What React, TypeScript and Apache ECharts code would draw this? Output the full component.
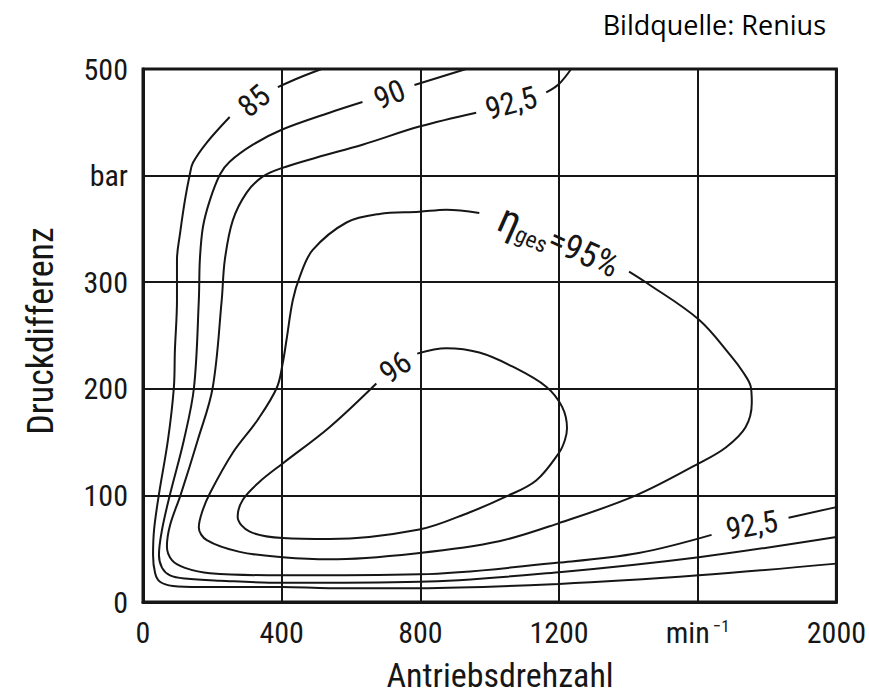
import React, { useEffect, useRef } from 'react';
import * as echarts from 'echarts';

// Axis ticks and labels
const xTickValues = [0, 400, 800, 1200, 1600, 2000];
const xTickLabels = ['0', '400', '800', '1200', '{m|min}{s|−1}', '2000'];
const yTickValues = [0, 100, 200, 300, 400, 500];
const yTickLabels = ['0', '100', '200', '300', 'bar', '500'];

// Contour: 85 %
const eta85Top = [[515, 500], [452, 492], [389, 483]];
const eta85Main = [
  [250, 455], [184, 431], [144, 412], [135, 401], [121, 377], [107, 346], [98, 321], [98, 283],
  [92, 236], [89, 201], [72, 152], [46, 101], [32, 68], [29, 44], [35, 27], [49, 19], [86, 15],
  [164, 14], [403, 14], [538, 13], [797, 13], [1200, 17], [1603, 25], [2000, 36],
];
// Contour: 90 %
const eta90Top = [[932, 500], [783, 485]];
const eta90Main = [
  [633, 469], [538, 459], [400, 443], [317, 429], [250, 413], [222, 401], [193, 377], [173, 352],
  [164, 321], [161, 283], [147, 201], [118, 152], [78, 101], [55, 68], [46, 44], [55, 32], [78, 25],
  [121, 22], [222, 20], [403, 18], [797, 19], [1200, 28], [1603, 42], [2000, 61],
];
// Contour: 92.5 %
const eta925Top = [[1235, 500], [1200, 486], [1163, 478]];
const eta925Main = [
  [961, 459], [797, 446], [633, 429], [501, 417], [400, 407], [345, 399], [299, 384], [259, 358],
  [236, 321], [227, 283], [201, 201], [158, 152], [109, 101], [78, 72], [69, 52], [84, 39], [121, 32],
  [193, 27], [403, 25], [797, 26], [1200, 37], [1430, 46], [1640, 63],
];
const eta925End = [[1862, 79], [2000, 89]];
// Contour: 95 %
const eta95 = [
  [970, 365], [875, 368], [797, 366], [682, 364], [587, 356], [489, 330], [452, 305], [432, 283],
  [414, 246], [403, 224], [386, 201], [331, 171], [259, 140], [193, 102], [170, 84], [161, 70],
  [184, 58], [279, 47], [403, 42], [538, 40], [797, 46], [1027, 57], [1200, 74], [1422, 100],
  [1603, 130], [1681, 145], [1738, 164], [1756, 187], [1753, 202], [1730, 216], [1698, 230],
  [1603, 265], [1450, 300], [1402, 310],
];
// Contour: 96 %
const eta96 = [
  [791, 233], [875, 238], [970, 234], [1065, 221], [1163, 202], [1209, 183], [1223, 163], [1217, 152],
  [1200, 140], [1134, 114], [1048, 99], [941, 84], [797, 68], [538, 59], [403, 60], [308, 66],
  [273, 80], [288, 96], [337, 113], [403, 130], [538, 164], [673, 205],
];

// Contour labels: text, anchor (x, y) and slant in degrees
const contourLabelTexts = ['85', '90', '92,5', '92,5', '96', '{eta|η}{sub|ges}{eq|=95%}'];
const contourLabelX = [320, 711, 1062, 1756, 728, 1200];
const contourLabelY = [470, 476, 468, 72, 220, 338];
const contourLabelAngle = [40, 22, 15, 10, 35, -24];

const DIN = "'Roboto Condensed', Roboto, sans-serif";
const INK = '#161616';

function lineSeries(data: number[][]) {
  return {
    type: 'line',
    data,
    smooth: 0.35,
    showSymbol: false,
    symbol: 'none',
    lineStyle: { color: INK, width: 2 },
    z: 3,
  };
}

export default function App() {
  const ref = useRef<HTMLDivElement>(null);
  useEffect(() => {
    if (!ref.current) return;
    const chart = echarts.init(ref.current, undefined, { renderer: 'svg' });
    const fixedGraphics: any[] = [
      { id: 'src', type: 'text', right: 43, top: 11, style: { text: 'Bildquelle: Renius', font: "27px 'Open Sans', sans-serif", fill: '#000' } },
      { id: 'ytitle', type: 'text', x: 41, y: 331, rotation: Math.PI / 2, style: { text: 'Druckdifferenz', font: `36px ${DIN}`, fill: INK, align: 'center', verticalAlign: 'middle' } },
      { id: 'xtitle', type: 'text', x: 500, y: 675, style: { text: 'Antriebsdrehzahl', font: `34px ${DIN}`, fill: INK, align: 'center', verticalAlign: 'middle' } },
    ];
    chart.setOption({
      animation: false,
      backgroundColor: '#ffffff',
      grid: { left: 143, right: 31, top: 69, bottom: 94, show: true, borderColor: INK, borderWidth: 3, backgroundColor: 'transparent' },
      xAxis: {
        type: 'value', min: 0, max: 2000, interval: 400,
        axisLine: { show: true, lineStyle: { color: INK, width: 3 } },
        axisTick: { show: false },
        splitLine: { show: true, lineStyle: { color: INK, width: 2 } },
        axisLabel: {
          margin: 15, fontFamily: DIN, fontSize: 30, color: INK,
          formatter: (v: number) => xTickLabels[xTickValues.indexOf(v)] ?? String(v),
          rich: {
            m: { fontFamily: DIN, fontSize: 30, color: INK },
            s: { fontFamily: DIN, fontSize: 17, color: INK, verticalAlign: 'top', padding: [0, 0, 14, 3] },
          },
        },
      },
      yAxis: {
        type: 'value', min: 0, max: 500, interval: 100,
        axisLine: { show: true, lineStyle: { color: INK, width: 3 } },
        axisTick: { show: false },
        splitLine: { show: true, lineStyle: { color: INK, width: 2 } },
        axisLabel: {
          margin: 15, fontFamily: DIN, fontSize: 30, color: INK,
          formatter: (v: number) => yTickLabels[yTickValues.indexOf(v)] ?? String(v),
        },
      },
      graphic: fixedGraphics,
      series: [
        lineSeries(eta85Top), lineSeries(eta85Main),
        lineSeries(eta90Top), lineSeries(eta90Main),
        lineSeries(eta925Top), lineSeries(eta925Main), lineSeries(eta925End),
        lineSeries(eta95), lineSeries(eta96),
      ],
    });
    const labelGraphics = contourLabelTexts.map((t, i) => {
      const [px, py] = chart.convertToPixel({ gridIndex: 0 }, [contourLabelX[i], contourLabelY[i]]) as number[];
      return {
        id: 'lbl' + i, type: 'text', x: px, y: py, rotation: (contourLabelAngle[i] * Math.PI) / 180, z: 10,
        style: {
          text: t, fill: INK, font: `31px ${DIN}`, align: 'center', verticalAlign: 'middle',
          rich: {
            eta: { fontFamily: DIN, fontSize: 42, fill: INK },
            sub: { fontFamily: DIN, fontSize: 23, fill: INK, verticalAlign: 'bottom', padding: [18, 0, 0, 0] },
            eq: { fontFamily: DIN, fontSize: 35, fill: INK },
          },
        },
      };
    });
    chart.setOption({ graphic: [...fixedGraphics, ...labelGraphics] });
    return () => chart.dispose();
  }, []);
  return <div ref={ref} style={{ position: 'fixed', left: 0, top: 0, width: 869, height: 696, background: '#fff' }} />;
}
